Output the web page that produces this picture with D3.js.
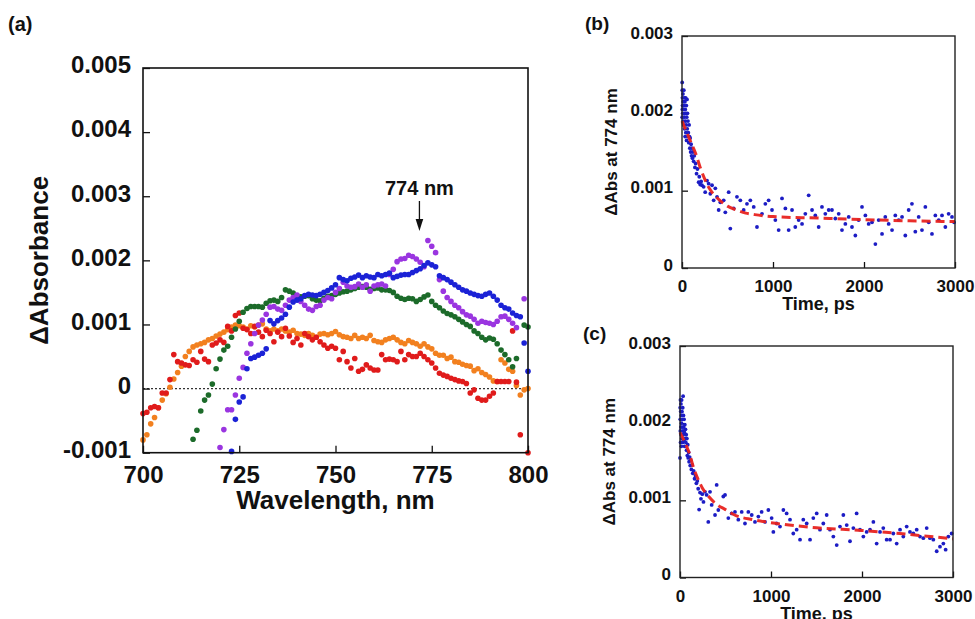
<!DOCTYPE html>
<html>
<head>
<meta charset="utf-8">
<script src="https://cdn.jsdelivr.net/npm/d3@7"></script>
<style>
  html, body { margin: 0; padding: 0; background: #fff; }
  svg { display: block; }
  text { font-family: "Liberation Sans", Arial, Helvetica, sans-serif; font-weight: bold; fill: #111; }
</style>
</head>
<body>
<svg id="chart" width="975" height="619"></svg>
<script>
// ---------------- DATA ----------------
// Panel (a): transient absorption spectra, values in units of 0.001 (ΔAbsorbance ×1000)
const wavelengths = [700,701,702,703,704,705,706,707,708,709,710,711,712,713,714,715,716,717,718,719,
  720,721,722,723,724,725,726,727,728,729,730,731,732,733,734,735,736,737,738,739,
  740,741,742,743,744,745,746,747,748,749,750,751,752,753,754,755,756,757,758,759,
  760,761,762,763,764,765,766,767,768,769,770,771,772,773,774,775,776,777,778,779,
  780,781,782,783,784,785,786,787,788,789,790,791,792,793,794,795,796,797,798,799,800];

const orangeSeries = [-0.80,-0.72,-0.55,-0.45,-0.30,-0.18,-0.08,0.02,0.15,0.25,
  0.35,0.50,0.58,0.65,0.68,0.70,0.72,0.76,0.78,0.82,
  0.85,0.88,0.92,0.96,0.99,0.98,0.96,0.93,0.98,0.96,
  0.99,1.01,0.93,0.90,0.93,0.90,0.93,0.90,0.88,0.91,
  0.86,0.85,0.83,0.86,0.83,0.80,0.85,0.86,0.84,0.86,
  0.89,0.84,0.81,0.80,0.78,0.83,0.78,0.80,0.78,0.83,
  0.75,0.73,0.72,0.76,0.78,0.80,0.76,0.72,0.70,0.75,
  0.72,0.70,0.66,0.70,0.65,0.62,0.55,0.52,0.52,0.47,
  0.49,0.42,0.41,0.38,0.36,0.35,0.28,0.31,0.25,0.22,
  0.18,0.12,0.11,0.45,0.40,0.30,0.27,0.05,-0.10,-0.02,0.00];

const redSeries = [-0.39,-0.37,-0.30,-0.28,-0.30,-0.07,-0.07,0.14,0.53,0.42,
  0.40,0.37,0.36,0.45,0.41,0.58,0.46,0.42,0.68,0.71,
  0.76,0.72,0.97,0.90,1.14,1.18,0.94,0.92,0.86,0.97,
  0.88,0.81,0.91,0.86,0.73,0.88,0.81,0.94,0.82,0.72,
  0.78,0.68,0.86,0.81,0.76,0.80,0.73,0.68,0.63,0.66,
  0.63,0.45,0.58,0.42,0.32,0.47,0.27,0.30,0.37,0.32,
  0.29,0.29,0.53,0.45,0.46,0.45,0.42,0.58,0.45,0.53,
  0.50,0.50,0.55,0.50,0.45,0.40,0.32,0.24,0.21,0.19,
  0.16,0.14,0.12,0.11,0.08,-0.07,-0.02,-0.15,-0.18,-0.18,
  -0.12,-0.07,0.11,0.11,0.11,0.11,0.90,0.10,-0.72,null,-1.00];

const greenSeries = [null,null,null,null,null,null,null,null,null,null,
  null,null,null,-0.79,-0.65,-0.35,-0.18,-0.10,0.07,0.31,
  0.46,0.60,0.66,0.80,0.93,1.05,1.19,1.25,1.28,1.28,
  1.28,1.27,1.33,1.37,1.38,1.36,1.42,1.54,1.52,1.49,
  1.44,1.43,1.44,1.45,1.40,1.38,1.37,1.41,1.44,1.45,
  1.47,1.49,1.51,1.52,1.54,1.56,1.58,1.59,1.58,1.55,
  1.56,1.57,1.54,1.54,1.53,1.50,1.44,1.41,1.39,1.41,
  1.40,1.36,1.39,1.43,1.46,1.36,1.30,1.26,1.21,1.17,
  1.15,1.12,1.08,1.04,1.00,0.97,0.90,0.86,0.80,0.76,
  0.79,0.77,0.70,0.60,0.53,0.45,0.34,0.47,null,0.99,0.96];

const purpleSeries = [null,null,null,null,null,null,null,null,null,null,
  null,null,null,null,null,null,null,null,null,null,
  -0.92,-0.64,-0.33,-0.33,-0.10,0.16,0.33,0.55,0.70,0.86,
  0.99,1.07,1.16,1.27,1.28,1.24,1.22,1.30,1.38,1.42,
  1.46,1.36,1.30,1.24,1.22,1.28,1.30,1.38,1.42,1.40,
  1.50,1.56,1.66,1.60,1.58,1.59,1.63,1.58,1.62,1.52,
  1.60,1.62,1.63,1.60,1.78,1.86,1.98,2.02,2.03,2.08,
  2.06,2.02,1.97,1.90,2.31,2.22,2.12,1.70,1.52,1.42,
  1.36,1.30,1.26,1.20,1.15,1.13,1.08,1.02,1.05,1.03,
  1.02,1.00,1.05,1.12,1.13,1.08,1.02,0.95,null,1.40,null];

const blueSeries = [null,null,null,null,null,null,null,null,null,null,
  null,null,null,null,null,null,null,null,null,null,
  null,null,null,-0.98,-0.48,-0.21,-0.13,0.31,0.47,0.49,
  0.52,0.55,0.62,1.06,1.01,1.06,1.10,1.16,1.27,1.35,
  1.38,1.40,1.45,1.47,1.46,1.45,1.47,1.50,1.53,1.57,
  1.62,1.73,1.70,1.68,1.72,1.74,1.77,1.73,1.76,1.74,
  1.73,1.78,1.76,1.78,1.80,1.73,1.75,1.77,1.78,1.78,
  1.81,1.84,1.87,1.92,1.96,1.93,1.90,1.76,1.73,1.70,
  1.66,1.62,1.58,1.54,1.52,1.49,1.47,1.45,1.44,1.47,
  1.49,1.44,1.38,1.30,1.26,1.24,1.18,1.14,1.12,0.71,0.27];

const spectraNames  = ["orange", "red", "green", "purple", "blue"];
const spectraValues = [orangeSeries, redSeries, greenSeries, purpleSeries, blueSeries];
const spectraColors = ["#f2801f", "#e01b1b", "#1c6b2a", "#9a35e0", "#1b22d6"];

const aXTicks = [700, 725, 750, 775, 800];
const aYTicks = [-1, 0, 1, 2, 3, 4, 5];
const aYTickLabels = ["-0.001", "0", "0.001", "0.002", "0.003", "0.004", "0.005"];
const peakLabel = "774 nm";
const arrowWavelength = 771.8;

// Panel (b): kinetics at 774 nm, [time ps, ΔAbs ×1000]
const kineticsB = [[2,2.40],[3,2.30],[5,2.20],[6,2.10],[4,2.05],[8,2.00],[2,1.95],[10,2.25],[12,2.15],[14,1.90],
  [16,2.05],[18,1.85],[20,2.30],[22,2.10],[24,1.95],[26,2.20],[28,1.80],[30,2.00],[32,2.15],[34,1.70],
  [36,2.05],[38,1.90],[40,2.20],[42,1.75],[44,2.00],[46,1.85],[48,2.10],[50,1.65],[52,1.95],[55,2.18],
  [58,1.80],[60,2.00],[63,1.70],[66,1.90],[70,1.75],[74,1.62],[78,1.85],[82,1.70],[86,1.55],[90,1.68],
  [95,1.50],[100,1.60],[105,1.45],[110,1.55],[115,1.42],[120,1.50],[128,1.38],[135,1.45],[142,1.30],[150,1.35],
  [160,1.22],[170,1.28],[183,1.11],[190,1.18],[200,1.08],[210,1.12],[220,1.07],[238,1.05],[255,0.98],[275,1.13],
  [293,1.09],[311,0.96],[330,1.07],[348,0.875],[366,1.03],[385,0.92],[403,0.75],[421,0.85],[458,0.875],[476,0.72],
  [513,0.98],[531,0.51],[568,0.77],[604,0.92],[641,0.875],[678,0.75],[714,0.83],[751,0.875],[788,0.79],[824,0.53],
  [879,0.70],[916,0.83],[952,0.875],[989,0.75],[1026,0.62],[1062,0.49],[1099,0.90],[1136,0.77],[1172,0.49],[1209,0.75],
  [1245,0.53],[1282,0.62],[1319,0.57],[1355,0.70],[1392,0.94],[1429,0.75],[1465,0.68],[1502,0.53],[1538,0.79],[1575,0.70],
  [1612,0.75],[1648,0.75],[1685,0.64],[1722,0.70],[1758,0.49],[1795,0.57],[1832,0.66],[1868,0.53],[1905,0.42],[1941,0.62],
  [1978,0.79],[2015,0.68],[2051,0.57],[2088,0.59],[2125,0.31],[2161,0.62],[2198,0.44],[2234,0.66],[2271,0.57],[2308,0.49],
  [2344,0.68],[2381,0.62],[2418,0.66],[2454,0.42],[2491,0.75],[2527,0.83],[2564,0.47],[2601,0.66],[2637,0.49],[2674,0.79],
  [2711,0.59],[2747,0.44],[2784,0.68],[2821,0.62],[2857,0.68],[2894,0.53],[2930,0.70],[2967,0.66],[2990,0.59]];
const fitTimesB  = [0, 50, 100, 150, 200, 250, 300, 350, 400, 500, 600, 700, 800, 1000, 1500, 2000, 2500, 3000];
const fitValuesB = [1.90, 1.76, 1.62, 1.48, 1.30, 1.15, 1.03, 0.95, 0.89, 0.80, 0.75, 0.71, 0.69, 0.665, 0.645, 0.625, 0.61, 0.60];

// Panel (c)
const kineticsC = [[0,1.55],[2,2.20],[3,2.05],[4,1.90],[5,2.30],[6,1.75],[8,2.15],[9,1.95],[10,2.25],[12,1.85],
  [14,2.10],[15,1.70],[17,2.00],[18,2.30],[20,1.80],[22,2.15],[24,1.95],[26,2.05],[28,1.75],[30,2.20],
  [32,1.90],[34,2.35],[36,1.85],[38,2.10],[40,1.95],[42,1.78],[45,2.05],[48,1.88],[50,1.70],[53,1.98],
  [56,1.80],[60,1.92],[64,1.75],[68,1.85],[72,1.65],[76,1.80],[80,1.58],[85,1.72],[90,1.55],[95,1.62],
  [100,1.50],[106,1.56],[112,1.45],[118,1.52],[125,1.40],[132,1.46],[140,1.35],[150,1.38],[160,1.28],[170,1.32],
  [180,1.22],[190,1.25],[200,1.15],[210,0.88],[220,1.10],[230,1.02],[245,1.08],[258,0.98],[275,1.11],[293,1.07],
  [311,0.72],[330,1.11],[348,0.94],[385,0.81],[403,1.20],[421,0.875],[476,1.05],[495,1.07],[531,0.77],[568,0.83],
  [604,0.85],[641,0.75],[678,0.85],[714,0.70],[751,0.85],[788,0.81],[824,0.72],[861,0.79],[897,0.85],[934,0.72],
  [971,0.875],[1007,0.77],[1026,0.59],[1062,0.70],[1099,0.66],[1136,0.875],[1172,0.83],[1209,0.75],[1245,0.57],[1282,0.62],
  [1319,0.49],[1355,0.75],[1392,0.70],[1429,0.49],[1465,0.77],[1502,0.83],[1538,0.62],[1575,0.70],[1612,0.81],[1648,0.62],
  [1685,0.53],[1722,0.42],[1758,0.66],[1795,0.81],[1832,0.68],[1868,0.47],[1905,0.64],[1941,0.83],[1978,0.62],[2015,0.53],
  [2051,0.59],[2088,0.62],[2125,0.72],[2161,0.44],[2198,0.59],[2234,0.64],[2271,0.49],[2308,0.49],[2344,0.57],[2381,0.44],
  [2418,0.62],[2454,0.53],[2491,0.66],[2527,0.59],[2564,0.57],[2601,0.62],[2637,0.53],[2674,0.51],[2711,0.64],[2747,0.51],
  [2784,0.49],[2821,0.34],[2857,0.40],[2894,0.44],[2919,0.36],[2949,0.53],[2985,0.57]];
const fitTimesC  = [0, 50, 100, 150, 200, 250, 300, 400, 500, 600, 800, 1000, 1200, 1500, 2000, 2500, 3000];
const fitValuesC = [1.88, 1.76, 1.62, 1.42, 1.27, 1.15, 1.07, 0.95, 0.88, 0.81, 0.75, 0.71, 0.68, 0.645, 0.61, 0.56, 0.50];

const kXTicks = [0, 1000, 2000, 3000];
const kYTicks = [0, 1, 2, 3];
const kYTickLabels = ["0", "0.001", "0.002", "0.003"];

// ---------------- DRAWING ----------------
const svg = d3.select("#chart");
svg.append("rect").attr("width", 975).attr("height", 619).attr("fill", "#fff");

function styleAxis(g, fontSize) {
  g.select(".domain").remove();
  g.selectAll(".tick line").attr("stroke", "#111").attr("stroke-width", 1.3);
  g.selectAll(".tick text").style("font-size", fontSize + "px").attr("fill", "#111");
}

// ---- Panel (a)
const ax = d3.scaleLinear().domain([700, 800]).range([143, 528]);
const ay = d3.scaleLinear().domain([-1, 5]).range([452.7, 68]);

svg.append("text").attr("x", 8).attr("y", 31).style("font-size", "20px").text("(a)");

svg.append("clipPath").attr("id", "clipA").append("rect")
  .attr("x", 140).attr("y", 60).attr("width", 392).attr("height", 396);

// zero line
svg.append("line")
  .attr("x1", ax(700)).attr("x2", ax(800)).attr("y1", ay(0)).attr("y2", ay(0))
  .attr("stroke", "#333").attr("stroke-width", 1.3).attr("stroke-dasharray", "2,2");

const dotsA = svg.append("g").attr("clip-path", "url(#clipA)");
spectraValues.forEach((vals, si) => {
  const pts = wavelengths.map((w, i) => ({ w, v: vals[i] })).filter(d => d.v !== null);
  dotsA.append("g").attr("class", "series-" + spectraNames[si])
    .selectAll("circle").data(pts).join("circle")
    .attr("cx", d => ax(d.w)).attr("cy", d => ay(d.v)).attr("r", 2.8)
    .attr("fill", spectraColors[si]);
});

const aLeft = svg.append("g").attr("transform", `translate(${ax(700)},0)`)
  .call(d3.axisLeft(ay).tickValues(aYTicks).tickFormat((d, i) => aYTickLabels[i])
    .tickSizeInner(-7).tickSizeOuter(0).tickPadding(12));
styleAxis(aLeft, 24);
aLeft.selectAll(".tick text").attr("dy", "0.2em");

const aBottom = svg.append("g").attr("transform", `translate(0,${ay(-1)})`)
  .call(d3.axisBottom(ax).tickValues(aXTicks).tickFormat(d3.format("d"))
    .tickSizeInner(-7).tickSizeOuter(0).tickPadding(13));
styleAxis(aBottom, 24);

svg.append("rect").attr("x", ax(700)).attr("y", ay(5))
  .attr("width", ax(800) - ax(700)).attr("height", ay(-1) - ay(5))
  .attr("fill", "none").attr("stroke", "#111").attr("stroke-width", 1.6);

svg.append("text").attr("x", (ax(700) + ax(800)) / 2).attr("y", 509)
  .attr("text-anchor", "middle").style("font-size", "26px").text("Wavelength, nm");
svg.append("text").attr("transform", `translate(48,${(ay(5) + ay(-1)) / 2}) rotate(-90)`)
  .attr("text-anchor", "middle").style("font-size", "26px").text("\u0394Absorbance");

// annotation
const arX = ax(arrowWavelength);
svg.append("text").attr("x", arX).attr("y", 195).attr("text-anchor", "middle")
  .style("font-size", "20px").text(peakLabel);
svg.append("line").attr("x1", arX).attr("x2", arX).attr("y1", 201).attr("y2", 222)
  .attr("stroke", "#111").attr("stroke-width", 1.3);
svg.append("path").attr("d", `M${arX - 3.8},219 L${arX + 3.8},219 L${arX},231 Z`).attr("fill", "#111");

// ---- Panels (b), (c)
function kineticsPanel(opts) {
  const x = d3.scaleLinear().domain([0, 3000]).range([opts.left, opts.right]);
  const y = d3.scaleLinear().domain([0, 3]).range([opts.bottom, opts.top]);
  svg.append("text").attr("x", opts.left - 97).attr("y", opts.top - 6)
    .style("font-size", "19px").text(opts.label);

  const gl = svg.append("g").attr("transform", `translate(${opts.left},0)`)
    .call(d3.axisLeft(y).tickValues(kYTicks).tickFormat((d, i) => kYTickLabels[i])
      .tickSizeInner(-6).tickSizeOuter(0).tickPadding(9));
  styleAxis(gl, 17);
  gl.selectAll(".tick text").attr("dy", "0.12em");

  const gb = svg.append("g").attr("transform", `translate(0,${opts.bottom})`)
    .call(d3.axisBottom(x).tickValues(kXTicks).tickFormat(d3.format("d"))
      .tickSizeInner(-6).tickSizeOuter(0).tickPadding(12));
  styleAxis(gb, 17);

  svg.append("g").selectAll("circle").data(opts.points).join("circle")
    .attr("cx", d => x(d[0])).attr("cy", d => y(d[1])).attr("r", 1.9)
    .attr("fill", "#1c1cc4");

  const line = d3.line().x(d => x(d[0])).y(d => y(d[1])).curve(d3.curveMonotoneX);
  svg.append("path").datum(opts.fitT.map((t, i) => [t, opts.fitV[i]]))
    .attr("d", line).attr("fill", "none").attr("stroke", "#e8231f")
    .attr("stroke-width", 3).attr("stroke-dasharray", "9,5").attr("opacity", 0.95);

  svg.append("rect").attr("x", opts.left).attr("y", opts.top)
    .attr("width", opts.right - opts.left).attr("height", opts.bottom - opts.top)
    .attr("fill", "none").attr("stroke", "#222").attr("stroke-width", 1.4);

  svg.append("text").attr("x", (opts.left + opts.right) / 2).attr("y", opts.bottom + 42)
    .attr("text-anchor", "middle").style("font-size", "18px").text("Time, ps");
  svg.append("text").attr("transform", `translate(${opts.left - 65},${(opts.top + opts.bottom) / 2}) rotate(-90)`)
    .attr("text-anchor", "middle").style("font-size", "17px").text("\u0394Abs at 774 nm");
}

kineticsPanel({ left: 682, right: 955, top: 36, bottom: 268, label: "(b)",
  points: kineticsB, fitT: fitTimesB, fitV: fitValuesB });
kineticsPanel({ left: 680, right: 953, top: 346, bottom: 577.5, label: "(c)",
  points: kineticsC, fitT: fitTimesC, fitV: fitValuesC });
</script>
</body>
</html>
